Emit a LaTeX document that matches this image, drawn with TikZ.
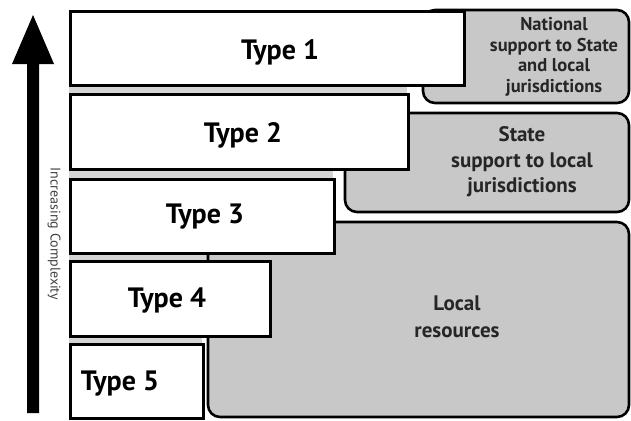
\documentclass[tikz,border=0pt]{standalone}
\usepackage{fontspec}
\setmainfont{PT Sans}
\begin{document}
\begin{tikzpicture}[x=1pt,y=-1pt,
  typebox/.style={draw=black,fill=white,line width=2.6pt},
  supportbox/.style={draw=black,fill=boxgray,line width=2.6pt,rounded corners=12pt},
  typelabel/.style={font=\fontsize{28}{28}\selectfont\bfseries,inner sep=0pt},
  supportlabel/.style={align=center,inner sep=0pt,text=black!85},
]
\definecolor{boxgray}{HTML}{C8C8C8}
\definecolor{gapgray}{HTML}{D4D4D4}
\useasboundingbox (0,0) rectangle (631,420);

% thin grey bands between stacked tiers
\fill[gapgray] (69,84) rectangle (407,94);
\fill[gapgray] (69,168) rectangle (333,178);
\fill[gapgray] (69,252) rectangle (269,261);
\fill[gapgray] (69,335) rectangle (202,344);

% support levels, drawn behind the tiers
\path[supportbox] (208,222) rectangle (629,417);
\path[supportbox] (345,113) rectangle (629,212);
\path[supportbox] (423,10) rectangle (629,103);

% incident types
\node[typebox,minimum width=394pt,minimum height=74pt,anchor=north west] (t1) at (69,10) {};
\node[typebox,minimum width=338pt,minimum height=75pt,anchor=north west] (t2) at (69,93) {};
\node[typebox,minimum width=264pt,minimum height=74pt,anchor=north west] (t3) at (69,178) {};
\node[typebox,minimum width=200pt,minimum height=75pt,anchor=north west] (t4) at (69,260) {};
\node[typebox,minimum width=133pt,minimum height=74pt,anchor=north west] (t5) at (69,343) {};

\node[typelabel] (l1) at (280,52) {Type 1};
\node[typelabel] (l2) at (243,135) {Type 2};
\node[typelabel] (l3) at (205,217) {Type 3};
\node[typelabel] (l4) at (167,300) {Type 4};
\node[typelabel] (l5) at (120,384) {Type 5};

\node[supportlabel,font=\fontsize{18.5}{20.5}\selectfont\bfseries] (s1) at (554,57) {National\\support to State\\and local\\jurisdictions};
\node[supportlabel,font=\fontsize{21}{25.5}\selectfont\bfseries] (s2) at (522,162) {State\\support to local\\jurisdictions};
\node[supportlabel,font=\fontsize{21}{27}\selectfont\bfseries] (s3) at (457,317) {Local\\resources};

% complexity arrow
\fill[black] (27,413) -- (27,64) -- (12,64) -- (33,15) -- (54,64) -- (39,64) -- (39,413) -- cycle;
\node[font=\fontsize{14}{14}\selectfont,rotate=-90,inner sep=0pt,text=black!75] (cx) at (54,234) {Increasing Complexity};
\end{tikzpicture}
\end{document}
